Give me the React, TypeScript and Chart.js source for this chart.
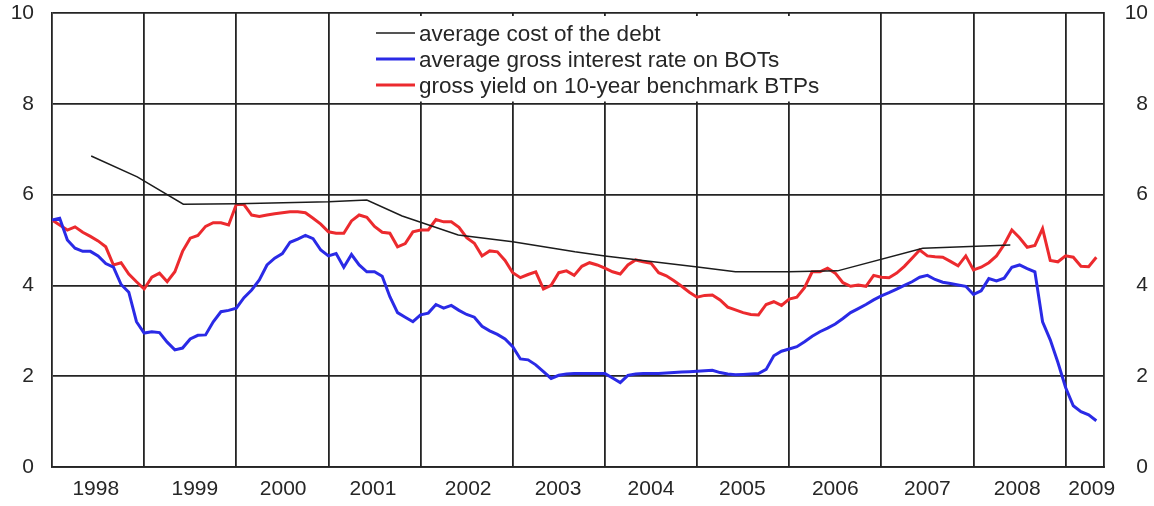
import React, { useEffect, useRef } from "react";
import { Chart, registerables } from "chart.js";

Chart.register(...registerables);

// ---- Data (months counted from January 1998) ----
const yearLabels = ["1998", "1999", "2000", "2001", "2002", "2003", "2004", "2005", "2006", "2007", "2008", "2009"];
const yearLabelPos = [5.7, 18.6, 30.1, 41.8, 54.2, 65.9, 78, 89.9, 102, 114, 125.7, 135.4];
const yearBoundaries = [12, 24, 36, 48, 60, 72, 84, 96, 108, 120, 132];

const seriesNames = [
  "average cost of the debt",
  "average gross interest rate on BOTs",
  "gross yield on 10-year benchmark BTPs",
];

// average cost of the debt (vertices)
const costMonths = [5.1, 11.1, 17.1, 24.2, 36, 41, 45.6, 52.9, 60, 68.1, 72, 83.8, 89, 95.9, 102.3, 113.4, 124.8];
const costValues = [6.85, 6.39, 5.79, 5.8, 5.84, 5.88, 5.53, 5.11, 4.96, 4.74, 4.65, 4.41, 4.3, 4.3, 4.32, 4.82, 4.89];

// average gross interest rate on BOTs (monthly)
const botValues = [
  5.44, 5.48, 5.0, 4.82, 4.75, 4.75, 4.65, 4.48, 4.4, 4.02, 3.85, 3.2,
  2.95, 2.98, 2.96, 2.75, 2.58, 2.62, 2.82, 2.9, 2.91, 3.2, 3.42, 3.45,
  3.5, 3.73, 3.9, 4.12, 4.45, 4.6, 4.7, 4.95, 5.02, 5.1, 5.03, 4.78,
  4.65, 4.7, 4.4, 4.68, 4.45, 4.3, 4.3, 4.2, 3.75, 3.4, 3.3, 3.2,
  3.35, 3.39, 3.58, 3.5, 3.56, 3.45, 3.36, 3.3, 3.1, 3.0, 2.92, 2.82,
  2.65, 2.38, 2.36, 2.25, 2.1, 1.95, 2.02, 2.05, 2.06, 2.06, 2.06, 2.06,
  2.06, 1.96, 1.86, 2.02, 2.05, 2.06, 2.06, 2.06, 2.07, 2.08, 2.09, 2.1,
  2.11, 2.12, 2.13, 2.08, 2.05, 2.03, 2.04, 2.05, 2.06, 2.15, 2.45, 2.55,
  2.6, 2.65, 2.76, 2.88, 2.98, 3.06, 3.15, 3.27, 3.4, 3.49, 3.58, 3.68,
  3.77, 3.84, 3.92, 4.0, 4.08, 4.18, 4.22, 4.13, 4.07, 4.04, 4.01, 3.98,
  3.8, 3.88, 4.15, 4.1, 4.16, 4.4, 4.45, 4.37, 4.3, 3.2, 2.8, 2.3,
  1.75, 1.35, 1.22, 1.15, 1.02,
];

// gross yield on 10-year benchmark BTPs (monthly)
const btpValues = [
  5.44, 5.33, 5.22, 5.29, 5.17, 5.08, 4.98, 4.85, 4.45, 4.5, 4.25, 4.08,
  3.92, 4.18, 4.27, 4.08, 4.3, 4.75, 5.04, 5.1, 5.3, 5.38, 5.38, 5.33,
  5.78, 5.78, 5.55, 5.52, 5.55, 5.58, 5.6, 5.62, 5.62, 5.6, 5.48, 5.35,
  5.18, 5.15, 5.15, 5.42, 5.55, 5.5, 5.3, 5.17, 5.15, 4.85, 4.92, 5.18,
  5.22, 5.22, 5.45, 5.4, 5.4, 5.28, 5.05, 4.93, 4.65, 4.76, 4.74, 4.55,
  4.28, 4.17, 4.24, 4.3, 3.92, 4.0, 4.28, 4.32, 4.22, 4.42, 4.5, 4.45,
  4.38, 4.3, 4.25, 4.45, 4.56, 4.52, 4.49, 4.28, 4.21, 4.1, 3.98, 3.85,
  3.74, 3.78, 3.79, 3.68, 3.52, 3.46, 3.4, 3.36, 3.35, 3.58, 3.64, 3.56,
  3.7, 3.74, 3.95, 4.3, 4.3, 4.38, 4.27, 4.06, 3.98, 4.01, 3.98, 4.22,
  4.18, 4.17, 4.27, 4.42, 4.6, 4.78, 4.65, 4.63, 4.62, 4.53, 4.43, 4.65,
  4.34, 4.4, 4.5, 4.65, 4.9, 5.22, 5.05, 4.84, 4.88, 5.25, 4.55, 4.52,
  4.65, 4.62, 4.42, 4.41, 4.62,
];

const FONT = "'Liberation Sans', Arial, sans-serif";
const GRID = "#242424";
const TEXT = "#262626";

const legendBox = {
  id: "legendBox",
  afterDraw(chart: any) {
    const ctx = chart.ctx;
    ctx.save();
    ctx.fillStyle = "#ffffff";
    ctx.fillRect(333, 16, 545, 85.5);
    chart.data.datasets.forEach((ds: any, i: number) => {
      const y = 33 + i * 26;
      ctx.beginPath();
      ctx.strokeStyle = ds.borderColor;
      ctx.lineWidth = ds.borderWidth;
      ctx.moveTo(376, y);
      ctx.lineTo(415, y);
      ctx.stroke();
      ctx.fillStyle = TEXT;
      ctx.font = "22.5px " + FONT;
      ctx.textBaseline = "middle";
      ctx.textAlign = "left";
      ctx.fillText(ds.label, 419, y + 1.5);
    });
    ctx.restore();
  },
};

const noPad = (s: any) => {
  s.paddingTop = 0;
  s.paddingBottom = 0;
};

export default function App() {
  const ref = useRef<HTMLCanvasElement | null>(null);

  useEffect(() => {
    document.body.style.margin = "0";
    const canvas = ref.current;
    if (!canvas) return;
    const chart = new Chart(canvas, {
      type: "line",
      data: {
        datasets: [
          {
            label: seriesNames[0],
            data: costMonths.map((m, i) => ({ x: m, y: costValues[i] })),
            borderColor: "#1c1c1c",
            borderWidth: 1.5,
            pointRadius: 0,
            tension: 0,
          },
          {
            label: seriesNames[1],
            data: botValues.map((v, i) => ({ x: i, y: v })),
            borderColor: "#2a2ae6",
            borderWidth: 3,
            pointRadius: 0,
            tension: 0,
          },
          {
            label: seriesNames[2],
            data: btpValues.map((v, i) => ({ x: i, y: v })),
            borderColor: "#ec2a2e",
            borderWidth: 3,
            pointRadius: 0,
            tension: 0,
          },
        ],
      },
      options: {
        responsive: false,
        animation: false,
        events: [],
        layout: { padding: { top: 13, right: 6, left: 0, bottom: 0 } },
        plugins: { legend: { display: false }, tooltip: { enabled: false } },
        scales: {
          x: {
            type: "linear",
            min: 0,
            max: 137,
            position: "bottom",
            afterBuildTicks: (s: any) => {
              s.ticks = [...yearBoundaries, ...yearLabelPos]
                .sort((a, b) => a - b)
                .map((v) => ({ value: v }));
            },
            afterFit: (s: any) => {
              s.height = 39;
            },
            ticks: {
              autoSkip: false,
              maxRotation: 0,
              minRotation: 0,
              padding: 10,
              color: TEXT,
              font: { family: FONT, size: 21 },
              callback: (val: any) => {
                const i = yearLabelPos.indexOf(Number(val));
                return i >= 0 ? yearLabels[i] : "";
              },
            },
            grid: {
              drawTicks: false,
              lineWidth: 1.8,
              color: (c: any) =>
                c.tick && yearBoundaries.includes(c.tick.value) ? GRID : "rgba(0,0,0,0)",
            },
            border: { display: true, color: GRID, width: 1.8 },
          },
          y: {
            type: "linear",
            min: 0,
            max: 10,
            position: "left",
            afterFit: (s: any) => {
              s.width = 52;
              noPad(s);
            },
            ticks: {
              stepSize: 2,
              padding: 18,
              color: TEXT,
              font: { family: FONT, size: 21 },
            },
            grid: { drawTicks: false, lineWidth: 1.8, color: GRID },
            border: { display: true, color: GRID, width: 1.8 },
          },
          y2: {
            type: "linear",
            min: 0,
            max: 10,
            position: "right",
            afterFit: (s: any) => {
              s.width = 44;
              noPad(s);
            },
            ticks: {
              stepSize: 2,
              padding: 0,
              crossAlign: "far",
              color: TEXT,
              font: { family: FONT, size: 21 },
            },
            grid: { display: false, drawTicks: false },
            border: { display: true, color: GRID, width: 1.8 },
          },
        },
      },
      plugins: [legendBox],
    });
    return () => chart.destroy();
  }, []);

  return (
    <div style={{ width: 1154, height: 506, background: "#fff" }}>
      <canvas ref={ref} width={1154} height={506} style={{ display: "block" }} />
    </div>
  );
}
